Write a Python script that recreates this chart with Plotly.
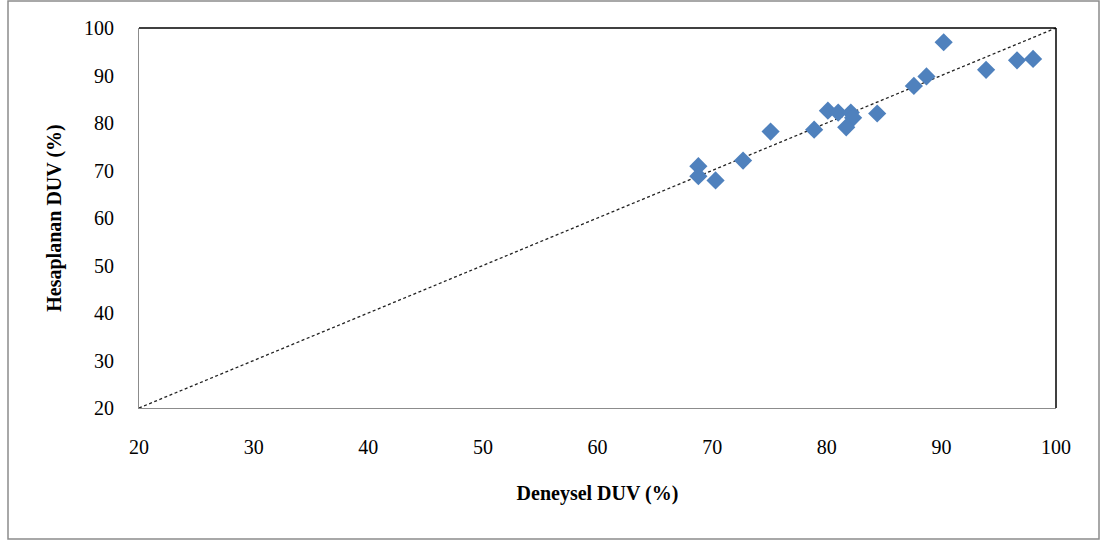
import plotly.graph_objects as go

deneysel = [68.8, 68.8, 70.3, 72.7, 75.1, 78.9, 80.1, 81.0, 82.1, 82.3, 81.7, 84.4, 87.6, 88.7, 90.2, 93.9, 96.6, 98.0]
hesaplanan = [70.9, 68.8, 67.9, 72.1, 78.2, 78.6, 82.6, 82.2, 82.2, 81.1, 79.1, 82.0, 87.8, 89.8, 97.0, 91.2, 93.2, 93.5]
line_x = [20, 100]
line_y = [20, 100]
ticks = [20, 30, 40, 50, 60, 70, 80, 90, 100]

font_family = "Liberation Serif"

fig = go.Figure()
fig.add_trace(go.Scatter(x=line_x, y=line_y, mode="lines",
                         line=dict(color="#222222", width=1.3, dash="3px,2.5px"),
                         hoverinfo="skip", showlegend=False))
fig.add_trace(go.Scatter(x=deneysel, y=hesaplanan, mode="markers",
                         marker=dict(symbol="diamond", size=14, color="#4F81BD",
                                     line=dict(width=0)),
                         showlegend=False))

axis_common = dict(range=[20, 100], tickvals=ticks, showgrid=False, zeroline=False,
                   showline=True, linecolor="#8c8c8c", linewidth=1,
                   ticks="", tickfont=dict(family=font_family, size=20, color="#000000"))

fig.update_xaxes(**axis_common, ticklabelstandoff=21,
                 title=dict(text="<b>Deneysel DUV (%)</b>", standoff=28,
                            font=dict(family=font_family, size=20, color="#000000")))
fig.update_yaxes(**axis_common, ticklabelstandoff=20,
                 title=dict(text="<b>Hesaplanan DUV (%)</b>", standoff=17,
                            font=dict(family=font_family, size=20, color="#000000")))

fig.update_layout(
    width=1103, height=540,
    margin=dict(l=139, r=47, t=28, b=132),
    plot_bgcolor="white", paper_bgcolor="white",
    shapes=[
        dict(type="line", xref="paper", yref="paper", x0=0, x1=1, y0=1, y1=1,
             line=dict(color="#000000", width=1.5)),
        dict(type="line", xref="paper", yref="paper", x0=1, x1=1, y0=0, y1=1,
             line=dict(color="#000000", width=1.5)),
        dict(type="rect", xref="paper", yref="paper",
             x0=-131/917, x1=1+43/917, y0=-131/380, y1=1+27/380,
             line=dict(color="#8c8c8c", width=1.5), layer="below"),
    ],
)

fig.write_html("out.html")
